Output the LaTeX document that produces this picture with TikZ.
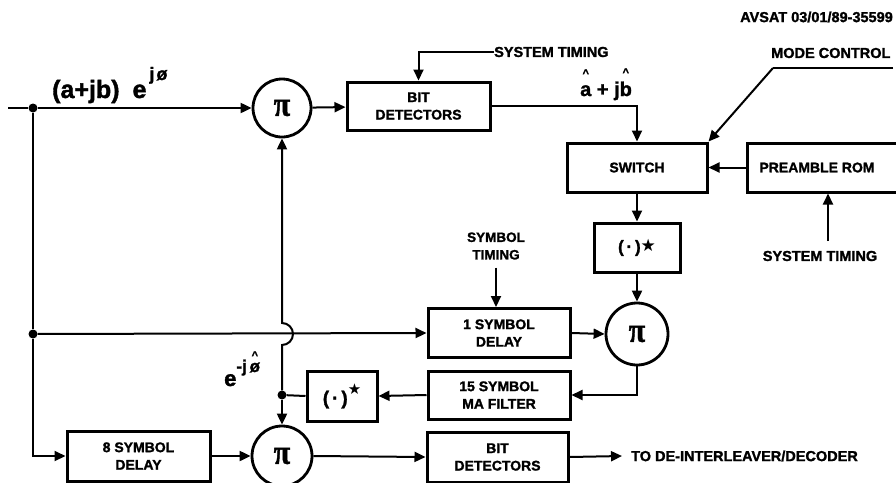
\documentclass[tikz,border=0pt]{standalone}
\usepackage{fontspec}
\setmainfont{Liberation Sans}[BoldFeatures={FakeBold=1.5}]
\usetikzlibrary{arrows.meta,calc}
\newfontfamily\djv{DejaVu Sans}
\newfontfamily\pifont{Liberation Serif}[BoldFeatures={FakeBold=1.5}]
\newcommand\myhat[2][14pt]{\leavevmode\ooalign{#2\cr\hidewidth\raisebox{#1}{\fontsize{11}{11}\selectfont\textasciicircum}\hidewidth\cr}}
\newcommand\bigpi{{\pifont\bfseries\fontsize{30}{30}\selectfont\scalebox{1}[1.15]{π}}}
\begin{document}
\begin{tikzpicture}[x=1pt,y=-1pt,
  conn/.style={line width=2pt},
  arr/.style={conn,-{Triangle[length=11pt,width=10pt]}},
  blk/.style={draw,line width=3pt,minimum width=#1,minimum height=48pt,inner sep=0pt,align=center,font=\fontsize{14}{17.5}\selectfont\bfseries},
  mult/.style={draw,circle,line width=2.8pt,minimum size=58pt,inner sep=0pt},
  dot/.style={circle,fill,inner sep=0pt,minimum size=9pt},
  lbl/.style={font=\fontsize{14.5}{17}\selectfont\bfseries,inner sep=0pt},
]
\useasboundingbox (0,0) rectangle (896,482);

% nodes
\coordinate (in) at (8,108);
\node[dot] (d1) at (33,108) {};
\node[dot] (d2) at (33,334) {};
\node[mult] (m1) at (282,108) {\bigpi};
\node[blk=143pt] (bd1) at (418.5,106) {BIT\\DETECTORS};
\node[blk=140pt,minimum height=49pt] (sw) at (637,167.5) {SWITCH};
\node[blk=156pt,minimum height=49pt] (pr) at (825,167.5) {};
\node[lbl,font=\fontsize{14}{17}\selectfont\bfseries] (prt) at (817,167.5) {PREAMBLE ROM};
\node[blk=86pt,minimum height=49pt] (cj1) at (637,247.5) {{\fontsize{17}{17}\selectfont(\,·\,)}\raisebox{1pt}{\djv\fontsize{17}{17}\selectfont★}};
\node[mult,minimum size=62pt] (m2) at (637,334) {\bigpi};
\node[blk=142pt,minimum height=49pt] (sd1) at (499,333) {1 SYMBOL\\DELAY};
\node[blk=142pt] (ma) at (499,395) {15 SYMBOL\\MA FILTER};
\node[blk=70pt,minimum height=50pt] (cj2) at (342,396) {{\fontsize{19}{19}\selectfont(\kern3pt·\kern3pt)}\raisebox{10pt}{\djv\fontsize{15}{15}\selectfont★}};
\node[dot] (d3) at (282,395) {};
\node[mult,minimum size=60pt] (m3) at (282,456) {\bigpi};
\node[blk=143pt,minimum height=50pt] (sd8) at (138.5,456) {8 SYMBOL\\DELAY};
\node[blk=141pt,minimum height=50pt] (bd2) at (497.5,457) {BIT\\DETECTORS};
\node[lbl,anchor=west,inner xsep=9pt] (out) at (622,456) {TO DE-INTERLEAVER/DECODER};

% text labels
\node[lbl,anchor=west] (st1) at (494,52) {SYSTEM TIMING};
\node[lbl,anchor=west] (mc) at (771,53) {MODE CONTROL};
\coordinate (mcl) at (773,68);
\coordinate (mcr) at (893,68);
\node[lbl] (st2) at (820,256) {SYSTEM TIMING};
\coordinate (st2top) at (828,241);
\node[lbl,align=center,font=\fontsize{13.5}{17.5}\selectfont\bfseries] (symt) at (496,246) {SYMBOL\\TIMING};
\node[lbl,anchor=east,font=\fontsize{14.5}{15}\selectfont\bfseries] (av) at (893,17) {AVSAT 03/01/89-35599};
\node[anchor=base west,inner sep=0pt,font=\fontsize{25}{25}\selectfont\bfseries] (inl) at (52,98)
  {(a+jb)\hspace{13pt}e\raisebox{18pt}{\fontsize{18}{18}\selectfont\kern3pt j\kern2pt ø}};
\node[anchor=base west,inner sep=0pt,font=\fontsize{20}{20}\selectfont\bfseries] (abl) at (580,96)
  {\myhat[19pt]{a} + j\myhat[20pt]{b}};
\node[anchor=base west,inner sep=0pt,font=\fontsize{22}{22}\selectfont\bfseries] (el) at (224,386)
  {e\raisebox{14pt}{\fontsize{17}{17}\selectfont -j\,\myhat[13pt]{ø}}};

% connectors
\draw[conn] (in) -- (d1);
\draw[arr] (d1) -- (m1);
\draw[conn] (d1) -- (d2);
\draw[arr] (m1) -- (bd1);
\draw[arr] (bd1.east) -| (sw.north);
\draw[arr] (st1.west) -| (bd1.north);
\draw[conn] (mcr) -- (mcl);
\draw[arr] (mcl) -- (sw.north east);
\draw[arr] (pr.west) -- (sw.east);
\draw[arr] (st2top) -- (st2top |- pr.south);
\draw[arr] (sw.south) -- (cj1.north);
\draw[arr] (cj1.south) -- (m2.north);
\draw[arr] ($(symt.south)+(0,8)$) -- (symt.south |- sd1.north);
\draw[arr] (d2) -- (sd1.west);
\draw[arr] (sd1.east) -- (m2.west);
\draw[arr] (m2.south) |- (ma.east);
\draw[arr] (ma.west) -- (cj2.east);
\draw[conn] (cj2.west) -- (d3);
\draw[arr] (d3) -- (m3.north);
\coordinate (hop) at (m1 |- d2);
\draw[arr] (d3) -- ($(hop)+(0,11)$) arc[start angle=90,end angle=-90,radius=11] -- (m1.south);
\draw[arr] (d2) |- (sd8.west);
\draw[arr] (sd8.east) -- (m3.west);
\draw[arr] (m3.east) -- (bd2.west);
\draw[arr] (bd2.east) -- (out.west);
\end{tikzpicture}
\end{document}
